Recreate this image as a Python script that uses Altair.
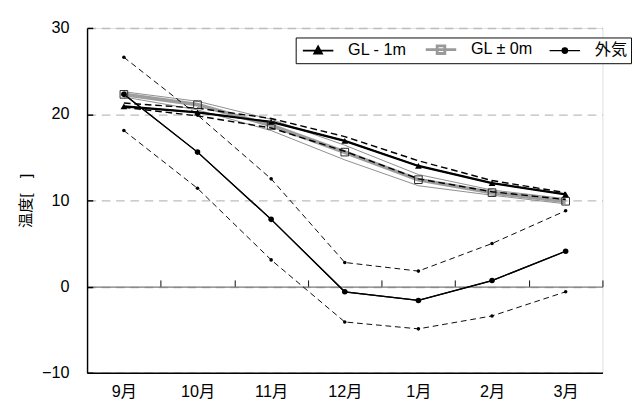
import altair as alt
import pandas as pd

months = ['9月', '10月', '11月', '12月', '1月', '2月', '3月']
series_names = ['GL - 1m', 'GL ± 0m', '外気']

gl1_mean = [20.9, 20.2, 19.1, 16.9, 14.0, 12.0, 10.7]
gl1_max = [21.3, 20.7, 19.5, 17.4, 14.6, 12.3, 10.9]
gl1_min = [20.8, 19.8, 18.4, 15.7, 12.5, 11.0, 10.1]

gl0_mean = [22.3, 21.1, 18.7, 15.6, 12.4, 10.9, 9.9]
gl0_max = [22.6, 21.5, 19.4, 16.4, 13.0, 11.2, 10.2]
gl0_min = [22.0, 20.5, 18.1, 14.7, 11.7, 10.6, 9.6]

air_mean = [22.3, 15.6, 7.8, -0.6, -1.6, 0.7, 4.1]
air_max = [26.6, 19.9, 12.5, 2.8, 1.8, 5.0, 8.8]
air_min = [18.1, 11.4, 3.1, -4.1, -4.9, -3.4, -0.6]

y_ticks = [-10, 0, 10, 20, 30]

W, H = 541, 362
Y_MIN, Y_MAX = -10, 30
ZERO_PX = H * (Y_MAX - 0) / (Y_MAX - Y_MIN)
FONT = 'Liberation Sans, Arial, Noto Sans CJK JP'
AX_FS = 17

idx = list(range(len(months)))


def frame(values, name):
    return pd.DataFrame({'i': idx, 'v': values, 'series': name})


main_df = pd.concat([frame(gl1_mean, series_names[0]), frame(gl0_mean, series_names[1]),
                     frame(air_mean, series_names[2])])
gray_band = pd.concat([frame(gl0_max, 'gl0_max'), frame(gl0_min, 'gl0_min')])
gl1_band = pd.concat([frame(gl1_max, 'gl1_max'), frame(gl1_min, 'gl1_min')])
air_band = pd.concat([frame(air_max, 'air_max'), frame(air_min, 'air_min')])

label_expr = '[' + ','.join("'%s'" % m for m in months) + '][datum.value]'

x_scale = alt.Scale(domain=[-0.5, len(months) - 0.5], nice=False, zero=False)
y_scale = alt.Scale(domain=[Y_MIN, Y_MAX], nice=False, zero=False)

y_left = alt.Y('v:Q', scale=y_scale, axis=alt.Axis(
    values=y_ticks, grid=True, gridDash=[9, 6], gridColor='#bdbdbd', gridWidth=1.5,
    ticks=False, domainColor='black', domainWidth=1.5,
    labelPadding=19, labelFontSize=AX_FS, labelFont=FONT, labelColor='black',
    title='温度[　]', titleFontSize=16, titleFont=FONT, titleFontWeight='normal',
    titleColor='#000000', titlePadding=9))
y_inner = alt.Y('v:Q', scale=y_scale, axis=alt.Axis(
    orient='right', offset=-W, values=y_ticks, labels=False, domain=False, grid=False,
    tickSize=6, tickColor='black', tickWidth=1.5, title=None))
y_none = alt.Y('v:Q', scale=y_scale, axis=None)

x_none = alt.X('i:Q', scale=x_scale, axis=None)

zero_axis = alt.Axis(orient='top', offset=-ZERO_PX,
                     values=[k - 0.5 for k in range(len(months) + 1)],
                     labels=False, tickSize=7, tickColor='black', tickWidth=1,
                     domainColor='#7a7a7a', domainWidth=1.5, grid=False, title=None)
bottom_axis = alt.Axis(orient='bottom', values=idx, labelExpr=label_expr, ticks=False,
                       grid=False, domainColor='black', domainWidth=1.5, labelPadding=12,
                       labelFontSize=AX_FS, labelFont=FONT, labelColor='black', title=None)

l_gray = alt.Chart(gray_band).mark_line(color='#8a8a8a', strokeWidth=1).encode(
    x=alt.X('i:Q', scale=x_scale, axis=zero_axis), y=y_left, detail='series:N')

tri = 'M0,-0.27L0.25,0.2L-0.25,0.2Z'
sq = 'M-0.25,-0.25L0.25,-0.25L0.25,0.25L-0.25,0.25Z'
dot = 'M-0.18,0A0.18,0.18,0,1,1,0.18,0A0.18,0.18,0,1,1,-0.18,0Z'
line = 'M-1,0L1,0'
s0, s1, s2 = series_names
shape_sig = ("datum.value === '%s' ? '%s' : (datum.value === '%s' ? '%s' : '%s')"
             % (s0, line + tri, s1, line + sq, line + dot))

legend = alt.Legend(
    title=None, orient='none', legendX=219, legendY=10, direction='horizontal',
    strokeColor='black', fillColor='white', padding=4, labelFontSize=17, labelFont=FONT,
    labelColor='black', symbolSize=1024, symbolOffset=11, labelOffset=23, columnPadding=13,
    symbolType=alt.ExprRef(expr=shape_sig),
    symbolFillColor=alt.ExprRef(expr="datum.value === '%s' ? '#ffffff' : '#000000'" % s1),
    symbolStrokeColor=alt.ExprRef(expr="datum.value === '%s' ? '#999999' : '#000000'" % s1),
    symbolStrokeWidth=alt.ExprRef(expr="datum.value === '%s' ? 2 : (datum.value === '%s' ? 3 : 1.3)" % (s0, s1)),
    symbolOpacity=1)

l_main = alt.Chart(main_df).mark_line(strokeWidth=1.3).encode(
    x=alt.X('i:Q', scale=x_scale, axis=bottom_axis), y=y_inner,
    color=alt.Color('series:N', scale=alt.Scale(domain=series_names,
                    range=['#000000', '#9a9a9a', '#000000']), legend=legend))

l_gl0 = alt.Chart(frame(gl0_mean, s1)).mark_line(color='#9d9d9d', strokeWidth=4).encode(
    x=x_none, y=y_none)
l_gl1 = alt.Chart(frame(gl1_mean, s0)).mark_line(color='black', strokeWidth=2.3).encode(
    x=x_none, y=y_none)
l_air = alt.Chart(frame(air_mean, s2)).mark_line(color='black', strokeWidth=1.3).encode(
    x=x_none, y=y_none)

l_dash_gl1 = alt.Chart(gl1_band).mark_line(color='black', strokeWidth=1.5, strokeDash=[7, 4]).encode(
    x=x_none, y=y_none, detail='series:N')
l_dash_air = alt.Chart(air_band).mark_line(color='black', strokeWidth=1, strokeDash=[6, 4]).encode(
    x=x_none, y=y_none, detail='series:N')
p_air_band = alt.Chart(air_band).mark_point(filled=True, color='black', size=14, opacity=1).encode(
    x=x_none, y=y_none)

p_tri = alt.Chart(frame(gl1_mean, s0)).mark_point(
    shape='triangle-up', filled=True, color='black', size=50, opacity=1).encode(x=x_none, y=y_none)
p_sq = alt.Chart(frame(gl0_mean, s1)).mark_point(
    shape='square', filled=False, color='#222222', strokeWidth=1, size=64, opacity=1).encode(x=x_none, y=y_none)
p_air = alt.Chart(frame(air_mean, s2)).mark_point(
    shape='circle', filled=True, color='black', size=34, opacity=1).encode(x=x_none, y=y_none)

chart = alt.layer(l_gray, l_main, l_gl0, l_dash_gl1, l_gl1, l_dash_air, l_air, p_air_band,
                  p_tri, p_sq, p_air).resolve_axis(x='independent', y='independent').properties(
    width=W, height=H, padding={'left': 10, 'top': 2, 'right': 0, 'bottom': 0}
).configure_view(stroke='#888888', strokeWidth=1).configure(background='white')

chart.save('out.html', embed_options={'renderer': 'svg', 'actions': False})
